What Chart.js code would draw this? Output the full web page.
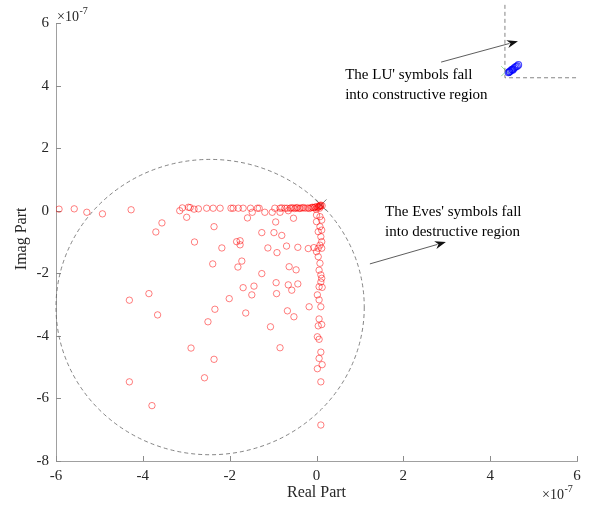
<!DOCTYPE html>
<html>
<head>
<meta charset="utf-8">
<script src="https://cdn.jsdelivr.net/npm/chart.js@4/dist/chart.umd.min.js"></script>
<style>
  html, body { margin: 0; padding: 0; background: #fff; }
  #wrap { width: 589px; height: 506px; }
</style>
</head>
<body>
<div id="wrap"><canvas id="c" width="589" height="506"></canvas></div>
<script>
// values in units of 1e-7
const xTicks = [-6, -4, -2, 0, 2, 4, 6];
const yTicks = [6, 4, 2, 0, -2, -4, -6, -8];

// Eves' symbols (red circles)
const evesRe = [
  -5.93, -5.58, -5.29, -4.93, -4.27, -3.15, -3.09, -2.95, -2.91, -2.82, -2.72, -2.53, -2.38, -2.22, -1.97,
  -1.92, -1.80, -1.69, -1.52, -1.36, -1.32, -1.48, -1.19, -1.02, -0.96, -0.84, -0.84, -0.73, -0.65, -0.61,
  -0.54, -0.47, -0.40, -0.33, -0.26, -0.20, -0.13, -0.08, -0.03, 0.01, 0.06, 0.08, 0.10, 0.13, 0.03,
  -0.01, 0.05, 0.09, -0.05, 0.07, -0.10, -0.17, -0.30, -0.37, -0.44, -0.50, -0.58, -0.68, -0.80,
  -2.99, -3.56, -3.70, -2.81, -3.86, -4.31, -3.66, -2.36, -1.59, -0.94, -0.53, -1.84, -1.76, -1.76, -2.18,
  -1.26, -0.98, -0.80, -1.12, -0.91, -0.69, -0.43, -0.19, -0.06, -2.39, -1.72, -1.81, -0.63, -0.47, -1.26,
  -1.69, -1.44, -0.93, -0.65, -0.43, -0.57, -2.01, -1.49, -0.92, -2.34, -0.67, -0.17, -2.50, -2.89, -2.36,
  -2.58, -4.31, -3.79, -1.63, -0.52, -1.06, -0.84,
  0.00, 0.08, 0.12, 0.00, 0.08, 0.12, 0.04, 0.10, 0.12, 0.08, 0.04, 0.12, 0.00, 0.04, 0.08,
  0.06, 0.10, 0.12, 0.10, 0.06, 0.13, 0.02, 0.06, 0.10, 0.06, 0.04, 0.12, 0.02, 0.06, 0.10,
  0.06, 0.13, 0.02, 0.10, 0.10
];
const evesIm = [
  0.05, 0.06, -0.05, -0.10, 0.03, 0.00, 0.09, 0.11, 0.10, 0.05, 0.06, 0.08, 0.08, 0.08, 0.08,
  0.08, 0.08, 0.08, 0.08, 0.08, 0.08, -0.05, -0.05, -0.05, 0.08, -0.05, 0.08, 0.08, 0.00, 0.08,
  0.09, 0.09, 0.07, 0.09, 0.08, 0.09, 0.09, 0.10, 0.12, 0.13, 0.15, 0.16, 0.18, 0.16, 0.10,
  0.05, 0.12, 0.14, 0.10, 0.08, 0.11, 0.07, 0.10, 0.08, 0.10, 0.07, 0.09, 0.08, 0.09,
  -0.21, -0.39, -0.68, -1.00, -2.65, -2.86, -3.33, -0.51, -0.23, -0.36, -0.24, -0.99, -0.96, -1.09, -1.19,
  -0.70, -0.70, -0.79, -1.19, -1.34, -1.13, -1.17, -1.21, -1.18, -1.70, -1.61, -1.80, -1.79, -1.89, -2.01,
  -2.46, -2.41, -2.30, -2.37, -2.34, -2.54, -2.81, -2.69, -2.65, -3.15, -3.20, -3.07, -3.55, -4.39, -4.75,
  -5.34, -5.47, -6.23, -3.27, -3.39, -3.71, -4.38,
  -0.14, -0.19, -0.30, -0.35, -0.51, -0.62, -0.67, -0.83, -0.99, -1.10, -1.20, -1.20, -1.31, -1.47, -1.68,
  -1.90, -2.05, -2.16, -2.28, -2.43, -2.45, -2.69, -2.85, -3.07, -3.46, -3.68, -3.64, -4.03, -4.11, -4.52,
  -4.72, -4.92, -5.05, -5.47, -6.85
];

// LU' symbols (blue circles)
const luRe = [4.42, 4.44, 4.45, 4.48, 4.50, 4.52, 4.53, 4.56, 4.59, 4.62, 4.65];
const luIm = [4.42, 4.43, 4.45, 4.48, 4.51, 4.50, 4.53, 4.57, 4.60, 4.62, 4.66];

// reference markers (crosses)
const evesRef = [0.10, 0.18];
const luRef = [4.37, 4.46];

// dashed boundary ring (centre and half-axes in data units)
const ring = { cx: -2.45, cy: -3.08, rx: 3.55, ry: 4.72 };
// constructive region corner
const corner = { x: 4.34, y: 4.25 };

const toPts = (xs, ys) => xs.map((v, i) => ({ x: v, y: ys[i] }));

const serif = '"Liberation Serif", "Times New Roman", serif';

function arrow(ctx, x1, y1, x2, y2) {
  const a = Math.atan2(y2 - y1, x2 - x1), L = 11, W = 4;
  ctx.beginPath();
  ctx.moveTo(x1, y1);
  ctx.lineTo(x2 - Math.cos(a) * L * 0.8, y2 - Math.sin(a) * L * 0.8);
  ctx.stroke();
  ctx.beginPath();
  ctx.moveTo(x2, y2);
  ctx.lineTo(x2 - L * Math.cos(a) + W * Math.sin(a), y2 - L * Math.sin(a) - W * Math.cos(a));
  ctx.lineTo(x2 - L * 0.7 * Math.cos(a), y2 - L * 0.7 * Math.sin(a));
  ctx.lineTo(x2 - L * Math.cos(a) - W * Math.sin(a), y2 - L * Math.sin(a) + W * Math.cos(a));
  ctx.closePath();
  ctx.fill();
}

function sciLabel(ctx, x, y) {
  ctx.font = '14px ' + serif;
  ctx.textAlign = 'left';
  ctx.textBaseline = 'alphabetic';
  ctx.fillText('\u00d710', x, y);
  const w = ctx.measureText('\u00d710').width;
  ctx.font = '10px ' + serif;
  ctx.fillText('-7', x + w + 0.5, y - 7);
}

const extras = {
  id: 'extras',
  beforeDatasetsDraw(chart) {
    const { ctx, scales: { x, y }, chartArea: a } = chart;
    const X = v => x.getPixelForValue(v), Y = v => y.getPixelForValue(v);
    ctx.save();
    // inward ticks
    ctx.strokeStyle = '#8c8c8c';
    ctx.lineWidth = 1;
    ctx.beginPath();
    xTicks.forEach(v => { const p = Math.round(X(v)) + 0.5; ctx.moveTo(p, a.bottom); ctx.lineTo(p, a.bottom - 5); });
    yTicks.forEach(v => { const p = Math.round(Y(v)) + 0.5; ctx.moveTo(a.left, p); ctx.lineTo(a.left + 5, p); });
    ctx.stroke();
    // dashed ring
    ctx.strokeStyle = '#666';
    ctx.lineWidth = 0.8;
    ctx.setLineDash([4, 3]);
    ctx.beginPath();
    ctx.ellipse(X(ring.cx), Y(ring.cy), X(ring.cx + ring.rx) - X(ring.cx), Y(ring.cy) - Y(ring.cy + ring.ry), 0, 0, Math.PI * 2);
    ctx.stroke();
    ctx.restore();
  },
  afterDatasetsDraw(chart) {
    const { ctx, scales: { x, y } } = chart;
    const X = v => x.getPixelForValue(v), Y = v => y.getPixelForValue(v);
    ctx.save();
    // constructive region corner (dashed)
    ctx.strokeStyle = '#777';
    ctx.lineWidth = 0.9;
    ctx.setLineDash([4, 3]);
    ctx.beginPath();
    ctx.moveTo(X(corner.x), Y(6.58));
    ctx.lineTo(X(corner.x), Y(corner.y));
    ctx.lineTo(X(6.0), Y(corner.y));
    ctx.stroke();
    ctx.setLineDash([]);
    // arrows
    ctx.strokeStyle = '#333';
    ctx.fillStyle = '#111';
    ctx.lineWidth = 0.8;
    arrow(ctx, X(2.87), Y(4.75), X(4.64), Y(5.42));
    arrow(ctx, X(1.23), Y(-1.70), X(2.98), Y(-1.00));
    // annotation texts
    ctx.fillStyle = '#000';
    ctx.font = '15px ' + serif;
    ctx.textAlign = 'left';
    ctx.textBaseline = 'middle';
    ctx.fillText("The LU' symbols fall", X(0.66), Y(4.34));
    ctx.fillText('into constructive region', X(0.66), Y(3.70));
    ctx.fillText("The Eves' symbols fall", X(1.58), Y(-0.04));
    ctx.fillText('into destructive region', X(1.58), Y(-0.68));
    // axis titles
    ctx.fillStyle = '#262626';
    ctx.font = '16px ' + serif;
    ctx.textAlign = 'center';
    ctx.fillText('Real Part', X(0), 493);
    ctx.save();
    ctx.translate(22, Y(-0.9));
    ctx.rotate(-Math.PI / 2);
    ctx.fillText('Imag Part', 0, 0);
    ctx.restore();
    sciLabel(ctx, 57, 21);
    sciLabel(ctx, 542, 499);
    ctx.restore();
  }
};

new Chart(document.getElementById('c'), {
  type: 'scatter',
  data: {
    datasets: [
      {
        label: 'Eves',
        data: toPts(evesRe, evesIm),
        pointStyle: 'circle',
        pointRadius: 3.2,
        borderWidth: 1,
        borderColor: 'rgba(255,0,0,0.5)',
        backgroundColor: 'rgba(0,0,0,0)'
      },
      {
        label: 'LU',
        data: toPts(luRe, luIm),
        pointStyle: 'circle',
        pointRadius: 3.2,
        borderWidth: 1.2,
        borderColor: 'rgba(0,0,255,0.7)',
        backgroundColor: 'rgba(0,0,0,0)'
      },
      {
        label: 'Eves ref',
        data: [{ x: evesRef[0], y: evesRef[1] }],
        pointStyle: 'crossRot',
        pointRadius: 8,
        borderWidth: 1,
        borderColor: 'rgba(90,90,90,0.8)'
      },
      {
        label: 'LU ref',
        data: [{ x: luRef[0], y: luRef[1] }],
        pointStyle: 'crossRot',
        pointRadius: 7,
        borderWidth: 1,
        borderColor: 'rgba(80,210,80,0.6)'
      }
    ]
  },
  options: {
    responsive: false,
    animation: false,
    events: [],
    layout: { padding: { top: 23, right: 12, left: 0, bottom: 0 } },
    plugins: { legend: { display: false }, tooltip: { enabled: false } },
    scales: {
      x: {
        type: 'linear',
        min: -6,
        max: 6,
        afterBuildTicks: s => { s.ticks = xTicks.map(v => ({ value: v })); },
        afterFit: s => { s.height = 45; },
        grid: { drawOnChartArea: false, drawTicks: false },
        border: { color: '#a0a0a0', width: 1 },
        ticks: { padding: 6, color: '#262626', font: { family: serif, size: 15 } }
      },
      y: {
        type: 'linear',
        min: -8,
        max: 6,
        afterBuildTicks: s => { s.ticks = yTicks.map(v => ({ value: v })); },
        afterFit: s => { s.width = 56; },
        grid: { drawOnChartArea: false, drawTicks: false },
        border: { color: '#a0a0a0', width: 1 },
        ticks: { padding: 7, color: '#262626', font: { family: serif, size: 15 } }
      }
    }
  },
  plugins: [extras]
});
</script>
</body>
</html>
